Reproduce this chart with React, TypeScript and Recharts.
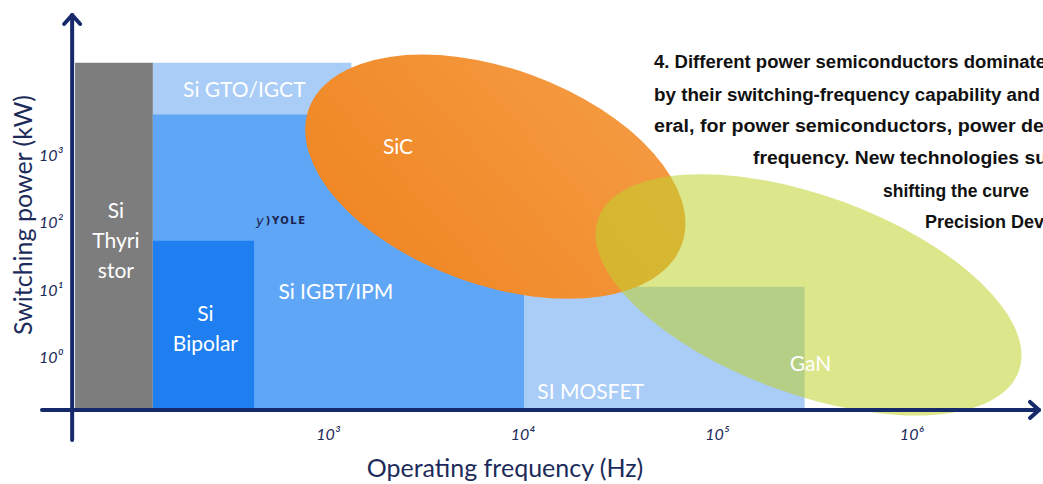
import { ComposedChart, XAxis, YAxis, ReferenceArea, ReferenceDot, ReferenceLine, Label } from "recharts";

// everything is on log scales: x = log10(frequency in Hz), y = log10(power in kW)
const freqTicks = [3, 4, 5, 6];
const freqTickLabels = ["10³", "10⁴", "10⁵", "10⁶"];
const powerTicks = [0, 1, 2, 3];
const powerTickLabels = ["10⁰", "10¹", "10²", "10³"];

const freqDomain = [1.56, 6.7];
const powerDomain = [-1.26, 5.11];
const axisFreq = 1.715;
const axisPower = -0.785;

// rectangular device regions
const regionNames = ["Si Thyristor", "Si GTO/IGCT", "Si IGBT/IPM", "Si Bipolar", "Si MOSFET"];
const regionFreqFrom = [1.73, 2.13, 2.13, 2.13, 4.04];
const regionFreqTo = [2.13, 3.15, 4.04, 2.65, 5.48];
const regionPowerTop = [4.36, 4.36, 3.59, 1.72, 1.04];

// wide-bandgap bubbles
const bubbleNames = ["SiC", "GaN"];
const bubbleFreqCenter = [3.89, 5.5];
const bubblePowerCenter = [2.67, 0.92];
const bubbleFreqRadius = [1.02, 1.15];
const bubblePowerRadius = [1.6, 1.47];

const regionColors = ["#7d7d7d", "#a9cdf7", "#5fa6f6", "#1f7ff0", "#a9cdf7"];
const bubbleStyles = [
  { fill: "url(#sicFill)", opacity: 1, tilt: 20 },
  { fill: "#bfd22b", opacity: 0.55, tilt: 20 },
];

const labels = [
  { lines: ["Si GTO/IGCT"], x: 2.6, y: 3.99 },
  { lines: ["SiC"], x: 3.39, y: 3.14 },
  { lines: ["Si", "Thyri", "stor"], x: 1.94, y: 1.75 },
  { lines: ["Si", "Bipolar"], x: 2.4, y: 0.44 },
  { lines: ["Si IGBT/IPM"], x: 3.07, y: 0.99 },
  { lines: ["SI MOSFET"], x: 4.38, y: -0.49 },
  { lines: ["GaN"], x: 5.51, y: -0.07 },
];

// caption text cut off by the right edge of the picture, as in the source
const captionLines = [
  { text: "4. Different power semiconductors dominate", left: 654, top: 62, width: 392 },
  { text: "by their switching-frequency capability and", left: 654, top: 95, width: 386 },
  { text: "eral, for power semiconductors, power de", left: 654, top: 126, width: 390 },
  { text: "frequency. New technologies su", left: 753, top: 158, width: 294 },
  { text: "shifting the curve", left: 883, top: 191, width: 146 },
  { text: "Precision Dev", left: 925, top: 222, width: 119 },
];

const NAVY = "#16296a";
const TEXT_NAVY = "#1c2b5a";
const labelFont = "Lato, 'Open Sans', sans-serif";

const ellipseShape = (tilt: number, fill: string, opacity: number) => (p: any) => {
  const w = Math.abs(p.width);
  const h = Math.abs(p.height);
  const cx = Math.min(p.x, p.x + p.width) + w / 2;
  const cy = Math.min(p.y, p.y + p.height) + h / 2;
  return (
    <ellipse
      cx={cx}
      cy={cy}
      rx={w / 2}
      ry={h / 2}
      fill={fill}
      fillOpacity={opacity}
      transform={`rotate(${tilt} ${cx} ${cy})`}
    />
  );
};

const labelShape = (lines: string[]) => (p: any) => {
  const lh = 30;
  return (
    <text
      x={p.cx}
      y={p.cy}
      textAnchor="middle"
      dominantBaseline="central"
      fill="#ffffff"
      fontFamily={labelFont}
      fontSize={21}
    >
      {lines.map((l, i) => (
        <tspan key={i} x={p.cx} dy={i === 0 ? -((lines.length - 1) / 2) * lh : lh}>
          {l}
        </tspan>
      ))}
    </text>
  );
};

const logoShape = (p: any) => (
  <text x={p.cx} y={p.cy} textAnchor="middle" dominantBaseline="central" fill="#1b2450" fontFamily="'DejaVu Sans', sans-serif">
    <tspan fontSize={13} fontStyle="italic">y</tspan>
    <tspan fontSize={10} fontWeight="bold" letterSpacing={1.5} dx={2}>)YOLE</tspan>
  </text>
);

const xAxisLine = (p: any) => {
  const x1 = Math.min(p.x1, p.x2);
  const x2 = Math.max(p.x1, p.x2);
  const y = p.y1;
  return (
    <g stroke={NAVY} strokeWidth={4} fill="none" strokeLinecap="round">
      <line x1={x1} y1={y} x2={x2 - 3} y2={y} />
      <polyline points={`${x2 - 12},${y - 8} ${x2 - 3},${y} ${x2 - 12},${y + 8}`} strokeLinejoin="round" />
    </g>
  );
};

const yAxisLine = (p: any) => {
  const y1 = Math.min(p.y1, p.y2);
  const y2 = Math.max(p.y1, p.y2);
  const x = p.x1;
  return (
    <g stroke={NAVY} strokeWidth={4} fill="none" strokeLinecap="round">
      <line x1={x} y1={y1 + 3} x2={x} y2={y2 - 2} />
      <polyline points={`${x - 8},${y1 + 12} ${x},${y1 + 3} ${x + 8},${y1 + 12}`} strokeLinejoin="round" />
    </g>
  );
};

const FreqTick = ({ x, y, payload }: any) => (
  <text x={x + 6} y={y - 9} textAnchor="middle" dominantBaseline="central" fill={TEXT_NAVY} fontFamily={labelFont} fontStyle="italic" fontSize={16}>
    {freqTickLabels[freqTicks.indexOf(payload.value)]}
  </text>
);

const PowerTick = ({ x, y, payload }: any) => (
  <text x={x + 9} y={y} textAnchor="middle" dominantBaseline="central" fill={TEXT_NAVY} fontFamily={labelFont} fontStyle="italic" fontSize={16}>
    {powerTickLabels[powerTicks.indexOf(payload.value)]}
  </text>
);

export default function App() {
  return (
    <div style={{ position: "fixed", left: 0, top: 0, width: 1043, height: 484, overflow: "hidden", background: "#ffffff" }}>
      <ComposedChart width={1043} height={484} data={[]} margin={{ top: 12, right: 1, left: 12, bottom: 12 }}>
        <defs>
          <linearGradient id="sicFill" x1="1" y1="0" x2="0" y2="1">
            <stop offset="0%" stopColor="#f59d45" />
            <stop offset="100%" stopColor="#ef8420" />
          </linearGradient>
        </defs>
        <XAxis
          type="number"
          dataKey="x"
          domain={freqDomain}
          ticks={freqTicks}
          allowDataOverflow
          axisLine={false}
          tickLine={false}
          tickSize={0}
          tickMargin={0}
          height={30}
          tick={<FreqTick />}
        >
          <Label
            content={(p: any) => (
              <text x={p.viewBox.x + 463} y={p.viewBox.y + 25} textAnchor="middle" dominantBaseline="central" fill={TEXT_NAVY} fontFamily={labelFont} fontSize={25}>
                Operating frequency (Hz)
              </text>
            )}
          />
        </XAxis>
        <YAxis
          type="number"
          dataKey="y"
          domain={powerDomain}
          ticks={powerTicks}
          allowDataOverflow
          axisLine={false}
          tickLine={false}
          tickSize={0}
          tickMargin={0}
          width={30}
          tick={<PowerTick />}
        >
          <Label
            content={(p: any) => {
              const cx = p.viewBox.x + 10;
              const cy = p.viewBox.y + 203;
              return (
                <text x={cx} y={cy} transform={`rotate(-90 ${cx} ${cy})`} textAnchor="middle" dominantBaseline="central" fill={TEXT_NAVY} fontFamily={labelFont} fontSize={25}>
                  Switching power (kW)
                </text>
              );
            }}
          />
        </YAxis>

        {regionNames.map((name, i) => (
          <ReferenceArea
            key={name}
            x1={regionFreqFrom[i]}
            x2={regionFreqTo[i]}
            y1={axisPower}
            y2={regionPowerTop[i]}
            fill={regionColors[i]}
            fillOpacity={1}
            stroke="none"
            ifOverflow="visible"
          />
        ))}

        {bubbleNames.map((name, i) => (
          <ReferenceArea
            key={name}
            x1={bubbleFreqCenter[i] - bubbleFreqRadius[i]}
            x2={bubbleFreqCenter[i] + bubbleFreqRadius[i]}
            y1={bubblePowerCenter[i] - bubblePowerRadius[i]}
            y2={bubblePowerCenter[i] + bubblePowerRadius[i]}
            ifOverflow="visible"
            shape={ellipseShape(bubbleStyles[i].tilt, bubbleStyles[i].fill, bubbleStyles[i].opacity)}
          />
        ))}

        {labels.map((l) => (
          <ReferenceDot key={l.lines.join(" ")} x={l.x} y={l.y} r={0} ifOverflow="visible" shape={labelShape(l.lines)} />
        ))}
        <ReferenceDot x={2.79} y={2.03} r={0} ifOverflow="visible" shape={logoShape} />

        <ReferenceLine y={axisPower} ifOverflow="visible" shape={xAxisLine} />
        <ReferenceLine x={axisFreq} ifOverflow="visible" shape={yAxisLine} />
      </ComposedChart>

      <svg width={1043} height={484} style={{ position: "absolute", left: 0, top: 0, pointerEvents: "none" }}>
        {captionLines.map((c) => (
          <text
            key={c.text}
            x={c.left}
            y={c.top}
            dominantBaseline="central"
            textLength={c.width}
            lengthAdjust="spacingAndGlyphs"
            fontFamily="'Liberation Sans', Arial, sans-serif"
            fontWeight="bold"
            fontSize={17.5}
            fill="#111111"
          >
            {c.text}
          </text>
        ))}
      </svg>
    </div>
  );
}
